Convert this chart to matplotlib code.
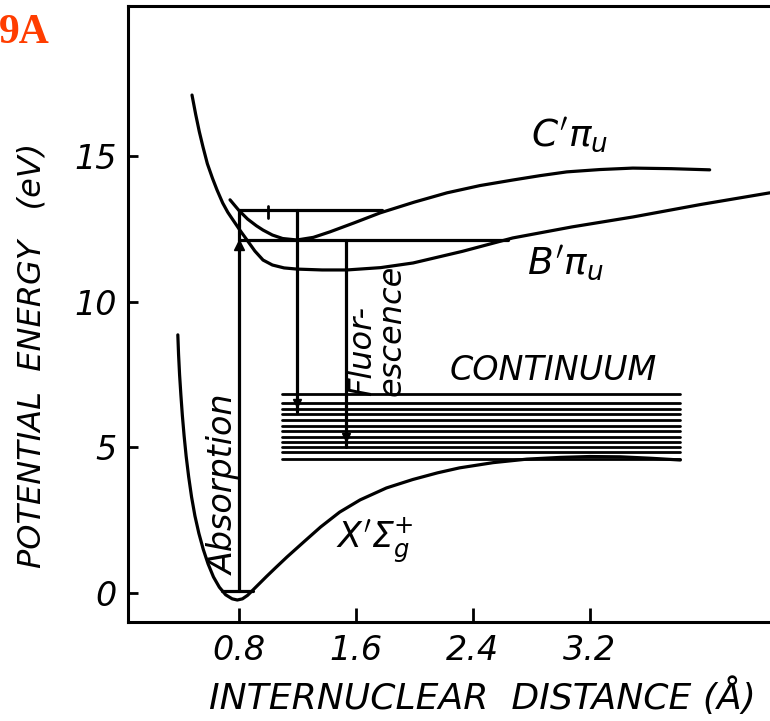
import numpy as np
from matplotlib import pyplot as plt

plt.rcParams['font.family'] = ['DejaVu Sans']
plt.rcParams['font.style'] = 'italic'
plt.rcParams['mathtext.fontset'] = 'dejavusans'
plt.rcParams['lines.solid_joinstyle'] = 'round'
plt.rcParams['lines.solid_capstyle'] = 'round'

# X ground state
x_ground = [0.383, 0.388, 0.395, 0.404, 0.414, 0.426, 0.440, 0.457, 0.477, 0.500,
            0.527, 0.557, 0.590, 0.627, 0.667, 0.710, 0.755, 0.790, 0.825, 0.860,
            0.896, 0.940, 0.990, 1.050, 1.130, 1.250, 1.360, 1.490, 1.630, 1.810,
            1.990, 2.160, 2.310, 2.540, 2.770, 3.000, 3.200, 3.410, 3.620, 3.820]
y_ground = [8.87, 8.20, 7.50, 6.80, 6.10, 5.40, 4.70, 4.00, 3.30, 2.65,
            2.05, 1.50, 1.00, 0.55, 0.20, -0.06, -0.20, -0.24, -0.20, -0.08,
            0.10, 0.32, 0.57, 0.86, 1.24, 1.78, 2.27, 2.78, 3.20, 3.61,
            3.90, 4.13, 4.30, 4.48, 4.60, 4.66, 4.69, 4.68, 4.63, 4.57]

# B state
x_b = [0.480, 0.505, 0.530, 0.555, 0.585, 0.620, 0.651, 0.690, 0.725, 0.760,
       0.810, 0.856, 0.910, 0.966, 1.030, 1.110, 1.198, 1.370, 1.539, 1.770,
       1.992, 2.330, 2.674, 3.080, 3.495, 3.960, 4.432]
y_b = [17.11, 16.45, 15.85, 15.33, 14.75, 14.25, 13.85, 13.40, 13.08, 12.82,
       12.45, 12.13, 11.75, 11.44, 11.27, 11.17, 11.13, 11.10, 11.10, 11.18,
       11.34, 11.74, 12.20, 12.58, 12.92, 13.35, 13.75]

# C state
x_c = [0.740, 0.800, 0.860, 0.920, 0.966, 1.030, 1.100, 1.198, 1.310, 1.424,
       1.590, 1.766, 2.000, 2.224, 2.450, 2.674, 2.860, 3.044, 3.270, 3.495,
       3.760, 4.021]
y_c = [13.51, 13.15, 12.85, 12.62, 12.47, 12.30, 12.18, 12.13, 12.22, 12.41,
       12.72, 13.06, 13.43, 13.75, 14.00, 14.19, 14.34, 14.47, 14.55, 14.60,
       14.58, 14.54]

# ground vibrational level
level0_x = [0.688, 0.896]
level0_y = 0.07

# excited levels (horizontal lines)
level_y = [13.16, 12.13]
level_x_end = [1.78, 2.64]
absorption_x = 0.8

# fluorescence transitions
fluor_x = [1.198, 1.533]
fluor_top = [13.16, 12.13]
fluor_bottom = [6.22, 5.02]
fluor_head = [6.53, 5.36]

# continuum
continuum_y = [6.83, 6.54, 6.32, 6.15, 5.95, 5.74, 5.58, 5.37, 5.20, 5.01, 4.84, 4.60]
continuum_x = [1.096, 3.818]

xticks = [0.8, 1.6, 2.4, 3.2]
yticks = [0, 5, 10, 15]

fig = plt.figure(figsize=(7.7, 7.21), dpi=100)
ax = fig.add_axes([0.1662, 0.1377, 0.8426, 0.854])

lw = 2.3
ax.plot(x_ground, y_ground, color='black', lw=lw)
ax.plot(x_b, y_b, color='black', lw=lw)
ax.plot(x_c, y_c, color='black', lw=lw)
ax.plot(level0_x, [level0_y, level0_y], color='black', lw=lw)

for yy, xe in zip(level_y, level_x_end):
    ax.plot([absorption_x, xe], [yy, yy], color='black', lw=lw)
ax.plot([absorption_x, absorption_x], [level0_y, level_y[0]], color='black', lw=lw)
ax.plot([absorption_x], [11.95], marker='^', color='black', ms=7)
ax.plot([1.0, 1.0], [12.9, 13.3], color='black', lw=2)

for fx, ft, fb, fh in zip(fluor_x, fluor_top, fluor_bottom, fluor_head):
    ax.plot([fx, fx], [ft, fb], color='black', lw=lw)
    ax.plot([fx], [fh], marker='v', color='black', ms=6)

for cy in continuum_y:
    ax.plot(continuum_x, [cy, cy], color='black', lw=2.0)

ax.text(3.066, 15.74, r'$C^{\prime}\pi_u$', fontsize=27, ha='center', va='center')
ax.text(3.032, 11.37, r'$B^{\prime}\pi_u$', fontsize=27, ha='center', va='center')
ax.text(1.73, 1.82, r'$X^{\prime}\Sigma_g^{+}$', fontsize=25, ha='center', va='center')
ax.text(2.954, 7.63, 'CONTINUUM', fontsize=24, ha='center', va='center')
ax.text(0.70, 3.71, 'Absorption', fontsize=24, rotation=90, ha='center', va='center')
ax.text(1.746, 9.04, 'Fluor-\nescence', fontsize=23, rotation=90, ha='center',
        va='center', multialignment='left', linespacing=0.95)

ax.set_xlim(0.042, 4.48)
ax.set_ylim(-0.986, 20.17)
ax.set_xticks(xticks)
ax.set_xticklabels([str(t) for t in xticks])
ax.set_yticks(yticks)
ax.tick_params(axis='x', direction='in', length=10, width=2, labelsize=24, pad=9)
ax.tick_params(axis='y', direction='in', length=7, width=2, labelsize=24, pad=8)
for side in ['left', 'bottom', 'top']:
    ax.spines[side].set_linewidth(2.2)
ax.spines['right'].set_visible(False)

ax.set_xlabel('INTERNUCLEAR  DISTANCE (Å)', fontsize=26)
ax.xaxis.set_label_coords(0.547, -0.1223)
ax.xaxis.label.set_verticalalignment('center')
ax.set_ylabel('POTENTIAL  ENERGY   (eV)', fontsize=23)
ax.yaxis.set_label_coords(-0.148, 0.433)
ax.yaxis.label.set_verticalalignment('center')

fig.text(0.065, 0.940, '9A', fontsize=30, fontweight='bold', style='normal',
         family='Liberation Serif', color='#ff3d00', ha='right', va='baseline')

fig.savefig('out.png', dpi=100)
